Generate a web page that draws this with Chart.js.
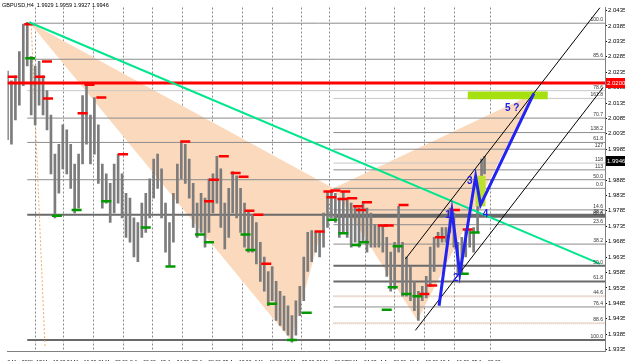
<!DOCTYPE html>
<html>
<head>
<meta charset="utf-8">
<script src="https://cdn.jsdelivr.net/npm/chart.js@4.4.1/dist/chart.umd.min.js"></script>
<style>
html, body { margin: 0; padding: 0; background: #fff; }
#wrap { width: 625px; height: 361px; position: relative; }
</style>
</head>
<body>
<div id="wrap"><canvas id="gbp-chart"></canvas></div>
<script>
"use strict";

/* GBPUSD H4 bars: bar index, high, low */
var barIdx = [0, 4, 8, 12, 16, 20, 24, 28, 32, 36, 40, 44, 48, 52, 56, 60, 64, 68, 72, 76,
    80, 84, 88, 92, 96, 100, 104, 108, 112, 116, 120, 124, 128, 132, 136, 140, 144, 148, 152, 156,
    160, 164, 168, 172, 176, 180, 184, 188, 192, 196, 200, 204, 208, 212, 216, 220, 224, 228, 232, 236,
    240, 244, 248, 252, 256, 260, 264, 268, 272, 276, 280, 284, 288, 292, 296, 300, 304, 308, 312, 316,
    320, 324, 328, 332, 336, 340, 344, 348, 352, 356, 360, 364, 368, 372, 376, 380, 384, 388, 392, 396,
    400, 404, 408, 412, 416, 420, 424, 428, 432, 436, 440, 444, 448, 452, 456, 460, 464, 468, 472, 476,
    480, 483];
var barHigh = [2.0239, 2.0207, 2.0223, 2.0302, 2.0391, 2.0397, 2.0286, 2.0255, 2.0270, 2.0223, 2.0175, 2.0096, 1.9969, 2.0001, 2.0064, 2.0048, 2.0001, 1.9937, 1.9969, 2.0159,
    2.0197, 2.0096, 2.0153, 2.0064, 1.9937, 1.9905, 1.9874, 1.9937, 1.9969, 1.9905, 1.9842, 1.9826, 1.9762, 1.9747, 1.9810, 1.9842, 1.9889, 1.9953, 1.9969, 1.9921,
    1.9810, 1.9747, 1.9842, 1.9937, 2.0010, 2.0001, 1.9953, 1.9874, 1.9810, 1.9842, 1.9826, 1.9889, 1.9905, 1.9962, 1.9921, 1.9810, 1.9858, 1.9912, 1.9899, 1.9858,
    1.9810, 1.9785, 1.9772, 1.9747, 1.9683, 1.9635, 1.9588, 1.9604, 1.9556, 1.9524, 1.9508, 1.9477, 1.9445, 1.9493, 1.9540, 1.9635, 1.9715, 1.9721, 1.9718, 1.9715,
    1.9778, 1.9848, 1.9851, 1.9842, 1.9826, 1.9848, 1.9826, 1.9810, 1.9800, 1.9794, 1.9813, 1.9794, 1.9778, 1.9740, 1.9737, 1.9737, 1.9699, 1.9651, 1.9683, 1.9800,
    1.9683, 1.9635, 1.9604, 1.9556, 1.9524, 1.9540, 1.9572, 1.9667, 1.9699, 1.9715, 1.9731, 1.9731, 1.9794, 1.9778, 1.9683, 1.9699, 1.9724, 1.9721, 1.9731, 1.9889,
    1.9953, 1.9962];
var barLow = [2.0016, 2.0001, 2.0080, 2.0128, 2.0191, 2.0255, 2.0096, 2.0064, 2.0128, 2.0096, 2.0048, 1.9905, 1.9762, 1.9842, 1.9921, 1.9905, 1.9858, 1.9778, 1.9794, 1.9937,
    2.0001, 1.9937, 1.9969, 1.9874, 1.9794, 1.9810, 1.9747, 1.9778, 1.9810, 1.9762, 1.9699, 1.9683, 1.9635, 1.9620, 1.9699, 1.9715, 1.9762, 1.9826, 1.9858, 1.9762,
    1.9651, 1.9604, 1.9683, 1.9810, 1.9889, 1.9874, 1.9826, 1.9731, 1.9699, 1.9715, 1.9667, 1.9715, 1.9778, 1.9810, 1.9731, 1.9661, 1.9699, 1.9778, 1.9762, 1.9715,
    1.9667, 1.9651, 1.9651, 1.9613, 1.9556, 1.9524, 1.9477, 1.9493, 1.9429, 1.9413, 1.9397, 1.9381, 1.9359, 1.9381, 1.9445, 1.9493, 1.9588, 1.9620, 1.9651, 1.9635,
    1.9667, 1.9731, 1.9762, 1.9747, 1.9699, 1.9715, 1.9699, 1.9667, 1.9683, 1.9667, 1.9683, 1.9651, 1.9667, 1.9667, 1.9667, 1.9651, 1.9572, 1.9524, 1.9531, 1.9651,
    1.9508, 1.9508, 1.9493, 1.9461, 1.9429, 1.9493, 1.9502, 1.9540, 1.9588, 1.9667, 1.9683, 1.9683, 1.9715, 1.9667, 1.9578, 1.9581, 1.9635, 1.9667, 1.9651, 1.9715,
    1.9810, 1.9905];

/* swing high / low markers */
var highMarkX = [5, 22, 33, 40, 41, 76, 83, 95, 117, 180, 204, 209, 219, 231, 239, 245, 254, 262, 316, 325, 332, 342, 328, 339, 349, 355, 358, 364, 380, 386, 401, 422, 430, 438, 453, 466, 478];
var highMarkP = [2.0220, 2.0391, 2.0220, 2.0270, 2.0150, 2.0102, 2.0194, 2.0153, 1.9969, 2.0010, 1.9816, 1.9886, 1.9962, 1.9908, 1.9896, 1.9785, 1.9772, 1.9613, 1.9718, 1.9848, 1.9851, 1.9848, 1.9829, 1.9823, 1.9826, 1.9800, 1.9788, 1.9813, 1.9737, 1.9737, 1.9804, 1.9515, 1.9543, 1.9699, 1.9788, 1.9724, 1.9893];
var lowMarkX = [23, 50, 70, 100, 140, 165, 195, 204, 241, 246, 268, 288, 303, 329, 340, 353, 361, 395, 384, 390, 404, 415, 462, 473];
var lowMarkP = [2.0280, 1.9769, 1.9788, 1.9816, 1.9731, 1.9604, 1.9708, 1.9683, 1.9708, 1.9658, 1.9483, 1.9366, 1.9454, 1.9756, 1.9712, 1.9674, 1.9683, 1.9670, 1.9464, 1.9537, 1.9515, 1.9508, 1.9581, 1.9715];

/* harmonic pattern X A B C D */
var patX = [22, 287, 330, 415, 533];
var patP = [2.0397, 1.9366, 1.9858, 1.9429, 2.0166];

/* elliott count */
var waveX = [437, 450, 458, 474, 479, 533];
var waveP = [1.9477, 1.9785, 1.9581, 1.9896, 1.9804, 2.0166];
var waveTags = ["1", "2", "3", "4", "5 ?"];
var waveTagX = [446, 454, 468, 484, 511];
var waveTagP = [1.9772, 1.9566, 1.9880, 1.9775, 2.0118];

/* trend lines */
var trendX = [22, 600];
var trendP = [2.0397, 1.9613];
var chanUpX = [403, 600];
var chanUpP = [1.9629, 2.0445];
var chanLoX = [413, 603];
var chanLoP = [1.9397, 2.0185];
var dotX = [24, 38];
var dotP = [2.0390, 1.9340];
var redLevel = 2.0200;
var lastPrice = 1.9946;

/* fibonacci levels */
var fibPrices = [2.0394, 2.0277, 2.0175, 2.0150, 2.0086, 2.0039, 2.0007, 1.9985, 1.9940, 1.9918, 1.9886, 1.9858,
    1.9788, 1.9772, 1.9766, 1.9740, 1.9677, 1.9607, 1.9556, 1.9508, 1.9473, 1.9420, 1.9366];
var fibLabels = ["100.0", "85.6", "78.6", "161.8", "70.7", "138.2", "61.8", "127", "118", "113", "50.0", "0.0",
    "14.6", "38.2", "88.6", "23.6", "38.2", "50.0", "61.8", "44.6", "76.4", "88.6", "100.0"];
var fibFrom = [25, 25, 20, 330, 20, 330, 20, 330, 330, 330, 20, 330, 330, 20, 330, 330, 330, 330, 330, 330, 330, 330, 20];
var fibTone = ["mid", "mid", "light", "light", "mid", "mid", "mid", "mid", "light", "mid", "mid", "mid",
    "mid", "dark", "dark", "mid", "mid", "dark", "dark", "tan", "mid", "tan", "dark"];

/* target zones [x0, x1, p0, p1] */
var zoneBig = [466, 547, 2.0172, 2.0147];
var zoneSmall = [474, 484, 1.9899, 1.9800];

/* axes */
var yTicks = [2.0435, 2.0385, 2.0335, 2.0285, 2.0235, 2.0185, 2.0135, 2.0085, 2.0035, 1.9985, 1.9935, 1.9885,
    1.9835, 1.9785, 1.9735, 1.9685, 1.9635, 1.9585, 1.9535, 1.9485, 1.9435, 1.9385, 1.9335];
var timeBars = [0, 29, 60, 92, 124, 155, 187, 218, 250, 280, 313, 343, 377, 407, 438, 470];
var timeLabels = ["8 Mar 2008", "17 Mar 12:00", "24 Mar 16:00", "31 Mar 20:00", "8 Apr 00:00", "15 Apr 04:00",
    "22 Apr 08:00", "29 Apr 12:00", "6 May 16:00", "13 May 20:00", "21 May 00:00", "28 May 04:00",
    "4 Jun 08:00", "11 Jun 12:00", "18 Jun 16:00", "25 Jun 20:00"];
var gridBars = [28, 57, 87, 117, 147, 177, 208, 238, 268, 298, 326, 362, 392, 422, 453, 489];

function pts(xs, ps) {
    return xs.map(function (x, i) { return { x: x, y: ps[i] }; });
}
function box(z) {
    return [{ x: z[0], y: z[2] }, { x: z[1], y: z[2] }, { x: z[1], y: z[3] }, { x: z[0], y: z[3] }];
}
function fibSet(tone) {
    var out = [];
    fibPrices.forEach(function (p, i) {
        if (fibTone[i] !== tone) return;
        out.push({ x: fibFrom[i], y: p }, { x: 605, y: p }, { x: 605, y: null });
    });
    return out;
}
function lineSet(data, color, width, order, extra) {
    var d = { type: "line", data: data, borderColor: color, borderWidth: width, pointRadius: 0,
        tension: 0, fill: false, order: order, spanGaps: false };
    if (extra) Object.keys(extra).forEach(function (k) { d[k] = extra[k]; });
    return d;
}

var bars = barIdx.map(function (x, i) { return { x: x, y: [barLow[i], barHigh[i]] }; });

var datasets = [
    lineSet(pts(patX.slice(0, 3), patP.slice(0, 3)), "rgba(0,0,0,0)", 0, 30, { fill: "shape", backgroundColor: "#fbd9bd" }),
    lineSet(pts(patX.slice(2, 5), patP.slice(2, 5)), "rgba(0,0,0,0)", 0, 30, { fill: "shape", backgroundColor: "#fbd9bd" }),
    lineSet(fibSet("light"), "#c8c8c8", 1, 25),
    lineSet(fibSet("tan"), "#d9b9a6", 2, 25, { borderDash: [1, 1] }),
    lineSet(fibSet("mid"), "#8c8c8c", 1, 24),
    lineSet(fibSet("dark"), "#6a6a6a", 2, 24),
    lineSet(pts(dotX, dotP), "#f4a868", 1, 22, { borderDash: [2, 2] }),
    {
        type: "bar", data: bars, backgroundColor: "#7c7c7c", barThickness: 2,
        grouped: false, order: 12
    },
    lineSet(pts(highMarkX, highMarkP), "#ff0000", 0, 10, {
        showLine: false, pointStyle: "line", pointRadius: 5,
        pointBorderColor: "#ff0000", pointBorderWidth: 2.5
    }),
    lineSet(pts(lowMarkX, lowMarkP), "#009900", 0, 10, {
        showLine: false, pointStyle: "line", pointRadius: 5,
        pointBorderColor: "#009900", pointBorderWidth: 2.5
    }),
    lineSet(pts(trendX, trendP), "#00e68c", 2, 8),
    lineSet([{ x: 0, y: redLevel }, { x: 605, y: redLevel }], "#ff0000", 3, 8),
    lineSet(box(zoneBig), "rgba(0,0,0,0)", 0, 7, { fill: "shape", backgroundColor: "#a6e010" }),
    lineSet(box(zoneSmall), "rgba(0,0,0,0)", 0, 7, { fill: "shape", backgroundColor: "#bce030" }),
    lineSet(pts(chanUpX, chanUpP), "#000000", 1, 5),
    lineSet(pts(chanLoX, chanLoP), "#000000", 1, 5),
    lineSet(pts(waveX, waveP), "#2424f0", 3, 2)
];

var overlay = {
    id: "mtOverlay",
    afterDatasetsDraw: function (chart) {
        var ctx = chart.ctx, xs = chart.scales.x, ys = chart.scales.y;
        ctx.save();
        ctx.font = "5px 'Liberation Sans'";
        ctx.fillStyle = "#333";
        ctx.textAlign = "right";
        ctx.textBaseline = "bottom";
        fibPrices.forEach(function (p, i) {
            ctx.fillText(fibLabels[i], 603, ys.getPixelForValue(p) - 1);
        });
        ctx.font = "bold 10px 'Liberation Sans'";
        ctx.fillStyle = "#2020e8";
        ctx.textAlign = "center";
        ctx.textBaseline = "middle";
        waveTags.forEach(function (t, i) {
            ctx.fillText(t, xs.getPixelForValue(waveTagX[i]), ys.getPixelForValue(waveTagP[i]));
        });
        ctx.font = "5.5px 'Liberation Sans'";
        ctx.fillStyle = "#000";
        ctx.textAlign = "left";
        ctx.fillText("GBPUSD,H4  1.9929 1.9959 1.9927 1.9946", 2, 5);
        ctx.restore();
    },
    afterDraw: function (chart) {
        var ctx = chart.ctx, ys = chart.scales.y;
        ctx.save();
        ctx.font = "6px 'Liberation Sans'";
        ctx.textAlign = "left";
        ctx.textBaseline = "middle";
        [[redLevel, "#ff0000"], [lastPrice, "#000000"]].forEach(function (m) {
            var py = Math.round(ys.getPixelForValue(m[0]));
            ctx.fillStyle = m[1];
            ctx.fillRect(606, py - 5, 19, 10);
            ctx.fillStyle = "#fff";
            ctx.fillText(m[0].toFixed(4), 607, py);
        });
        ctx.restore();
    }
};

var myChart = new Chart(document.getElementById("gbp-chart"), {
    type: "line",
    data: { datasets: datasets },
    plugins: [overlay],
    options: {
        responsive: true,
        maintainAspectRatio: false,
        animation: false,
        layout: { padding: 0 },
        plugins: { legend: { display: false }, tooltip: { enabled: false } },
        scales: {
            x: {
                type: "linear", min: 0, max: 605, offset: false,
                afterBuildTicks: function (s) { s.ticks = timeBars.map(function (v) { return { value: v }; }); },
                afterFit: function (s) { s.height = 10; s.paddingLeft = 0; s.paddingRight = 0; },
                ticks: {
                    autoSkip: false, maxRotation: 0, align: "start", padding: 1, color: "#000",
                    font: { family: "Liberation Sans", size: 5 },
                    callback: function (v, i) { return timeLabels[i]; }
                },
                grid: { display: false },
                border: { display: true, color: "#808080" }
            },
            xg: {
                type: "linear", min: 0, max: 605, position: "bottom", offset: false,
                afterBuildTicks: function (s) { s.ticks = gridBars.map(function (v) { return { value: v }; }); },
                afterFit: function (s) { s.height = 0; s.paddingLeft = 0; s.paddingRight = 0; },
                ticks: { display: false },
                grid: { color: "#8a8a8a", lineWidth: 1, drawTicks: false },
                border: { display: false, dash: [2, 2] }
            },
            y: {
                type: "linear", position: "right", min: 1.9330, max: 2.0445,
                afterBuildTicks: function (s) { s.ticks = yTicks.map(function (v) { return { value: v }; }); },
                afterFit: function (s) { s.width = 20; s.paddingTop = 0; s.paddingBottom = 0; },
                ticks: {
                    padding: 1, color: "#000", font: { family: "Liberation Sans", size: 6 },
                    callback: function (v) { return v.toFixed(4); }
                },
                grid: { drawOnChartArea: false, drawTicks: true, tickLength: 2, color: "#000" },
                border: { display: true, color: "#808080" }
            }
        }
    }
});
</script>
</body>
</html>
